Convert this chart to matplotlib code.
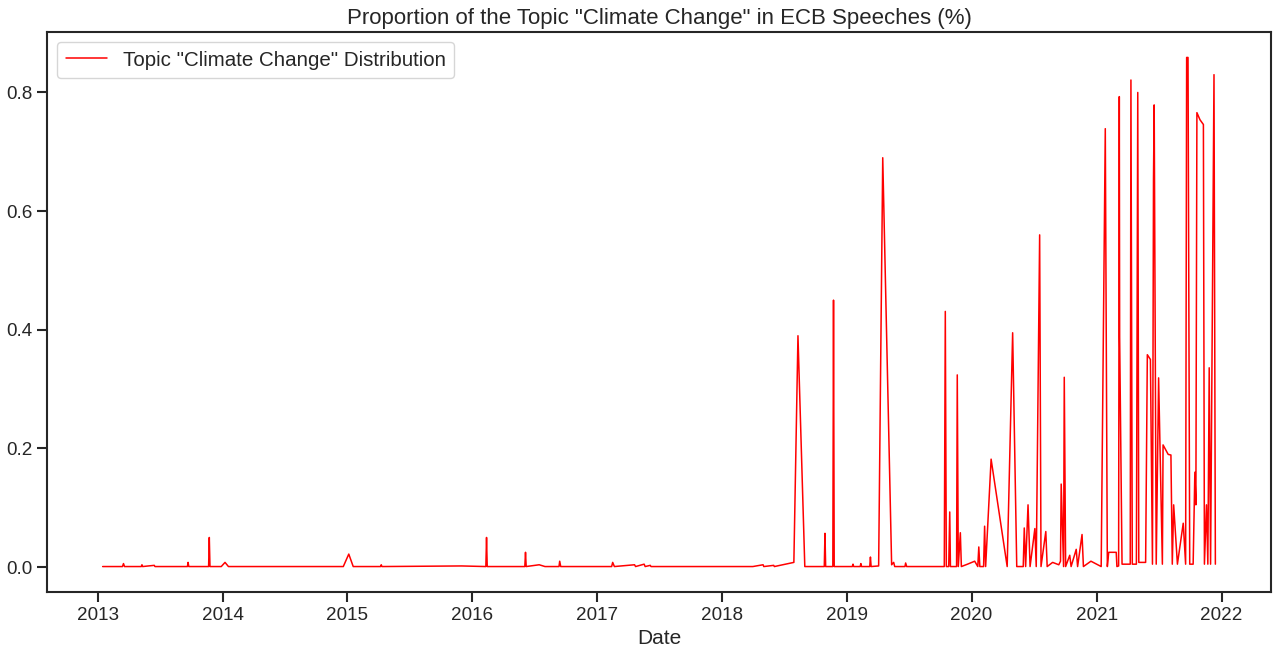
import matplotlib
matplotlib.use('Agg')
import matplotlib.pyplot as plt
import seaborn as sns
import pandas as pd

# speech dates and share of the topic "Climate Change"
dates = [
    '2013-01-15', '2013-03-14', '2013-03-17', '2013-03-20', '2013-05-08',
    '2013-05-10', '2013-05-12', '2013-06-15', '2013-06-17', '2013-09-20',
    '2013-09-22', '2013-09-24', '2013-11-21', '2013-11-23', '2013-11-25',
    '2013-12-28', '2014-01-08', '2014-01-18', '2014-06-01', '2014-12-20',
    '2015-01-05', '2015-01-18', '2015-04-08', '2015-04-10', '2015-04-12',
    '2015-12-01', '2016-02-10', '2016-02-12', '2016-02-14', '2016-06-03',
    '2016-06-05', '2016-06-07', '2016-07-15', '2016-08-01', '2016-09-11',
    '2016-09-13', '2016-09-16', '2017-02-12', '2017-02-15', '2017-02-20',
    '2017-04-20', '2017-04-23', '2017-05-18', '2017-05-21', '2017-06-05',
    '2017-06-07', '2018-04-01', '2018-05-01', '2018-05-03', '2018-06-01',
    '2018-06-03', '2018-07-05', '2018-07-30', '2018-08-11', '2018-08-31',
    '2018-10-27', '2018-10-29', '2018-10-31', '2018-11-21', '2018-11-23',
    '2018-11-25', '2018-11-27', '2019-01-17', '2019-01-19', '2019-01-21',
    '2019-02-09', '2019-02-11', '2019-02-13', '2019-03-09', '2019-03-11',
    '2019-03-13', '2019-04-04', '2019-04-16', '2019-05-12', '2019-05-18',
    '2019-05-21', '2019-06-20', '2019-06-22', '2019-06-25', '2019-10-13',
    '2019-10-16', '2019-10-19', '2019-10-26', '2019-10-29', '2019-10-31',
    '2019-11-18', '2019-11-20', '2019-11-23', '2019-11-29', '2019-12-02',
    '2019-12-20', '2020-01-10', '2020-01-19', '2020-01-22', '2020-01-25',
    '2020-02-05', '2020-02-08', '2020-02-11', '2020-02-27', '2020-04-14',
    '2020-04-30', '2020-05-12', '2020-05-31', '2020-06-03', '2020-06-07',
    '2020-06-14', '2020-06-20', '2020-07-04', '2020-07-08', '2020-07-18',
    '2020-07-22', '2020-08-05', '2020-08-09', '2020-08-25', '2020-09-12',
    '2020-09-17', '2020-09-19', '2020-09-26', '2020-09-28', '2020-10-02',
    '2020-10-14', '2020-10-18', '2020-11-02', '2020-11-06', '2020-11-19',
    '2020-11-23', '2020-12-15', '2021-01-14', '2021-01-26', '2021-02-01',
    '2021-02-05', '2021-02-27', '2021-03-01', '2021-03-06', '2021-03-08',
    '2021-03-09', '2021-03-16', '2021-04-09', '2021-04-11', '2021-04-15',
    '2021-04-27', '2021-05-01', '2021-05-04', '2021-05-24', '2021-05-29',
    '2021-06-07', '2021-06-13', '2021-06-16', '2021-06-18', '2021-06-24',
    '2021-07-01', '2021-07-12', '2021-07-14', '2021-07-29', '2021-08-06',
    '2021-08-10', '2021-08-14', '2021-08-25', '2021-09-11', '2021-09-18',
    '2021-09-21', '2021-09-25', '2021-09-30', '2021-10-10', '2021-10-15',
    '2021-10-18', '2021-10-21', '2021-10-30', '2021-11-09', '2021-11-12',
    '2021-11-18', '2021-11-22', '2021-11-26', '2021-11-30', '2021-12-10',
    '2021-12-14',
]
values = [
    0.001, 0.001, 0.006, 0.001, 0.001,
    0.004, 0.001, 0.003, 0.001, 0.001,
    0.008, 0.001, 0.001, 0.050, 0.001,
    0.001, 0.008, 0.001, 0.001, 0.001,
    0.022, 0.001, 0.001, 0.004, 0.001,
    0.002, 0.001, 0.050, 0.001, 0.001,
    0.025, 0.001, 0.004, 0.001, 0.001,
    0.010, 0.001, 0.001, 0.008, 0.001,
    0.004, 0.001, 0.005, 0.001, 0.003,
    0.001, 0.001, 0.004, 0.001, 0.003,
    0.001, 0.005, 0.008, 0.390, 0.001,
    0.001, 0.057, 0.001, 0.001, 0.450,
    0.001, 0.001, 0.001, 0.005, 0.001,
    0.001, 0.006, 0.001, 0.001, 0.017,
    0.001, 0.002, 0.690, 0.004, 0.008,
    0.001, 0.001, 0.007, 0.001, 0.001,
    0.431, 0.001, 0.001, 0.093, 0.001,
    0.001, 0.324, 0.001, 0.058, 0.001,
    0.005, 0.010, 0.001, 0.034, 0.001,
    0.001, 0.069, 0.001, 0.182, 0.001,
    0.395, 0.001, 0.001, 0.066, 0.001,
    0.105, 0.001, 0.065, 0.001, 0.560,
    0.001, 0.060, 0.001, 0.008, 0.004,
    0.010, 0.140, 0.001, 0.320, 0.001,
    0.020, 0.001, 0.030, 0.001, 0.055,
    0.001, 0.010, 0.001, 0.739, 0.001,
    0.025, 0.025, 0.001, 0.002, 0.793,
    0.388, 0.005, 0.005, 0.821, 0.005,
    0.005, 0.800, 0.008, 0.008, 0.358,
    0.350, 0.005, 0.653, 0.779, 0.005,
    0.319, 0.005, 0.206, 0.190, 0.189,
    0.005, 0.105, 0.005, 0.074, 0.005,
    0.859, 0.859, 0.005, 0.005, 0.160,
    0.105, 0.766, 0.754, 0.746, 0.005,
    0.105, 0.005, 0.336, 0.005, 0.830,
    0.005,
]

sns.set_style('ticks')
plt.rcParams['font.family'] = ['Liberation Sans', 'DejaVu Sans']

df = pd.DataFrame({'Date': pd.to_datetime(dates), 'share': values})

fig, ax = plt.subplots(figsize=(12.73, 6.55), dpi=100)
ax.plot(df['Date'], df['share'], color='red', lw=1.1,
        label='Topic "Climate Change" Distribution')
ax.set_title('Proportion of the Topic "Climate Change" in ECB Speeches (%)', fontsize=16)
ax.set_xlabel('Date', fontsize=15)
ax.tick_params(labelsize=13.6, length=7, width=1.5)
for s in ax.spines.values():
    s.set_linewidth(1.5)
ax.legend(loc='upper left', fontsize=14.8)

fig.subplots_adjust(left=47 / 1273, right=1271 / 1273, top=1 - 32 / 655, bottom=1 - 592 / 655)
fig.savefig('out.png')
